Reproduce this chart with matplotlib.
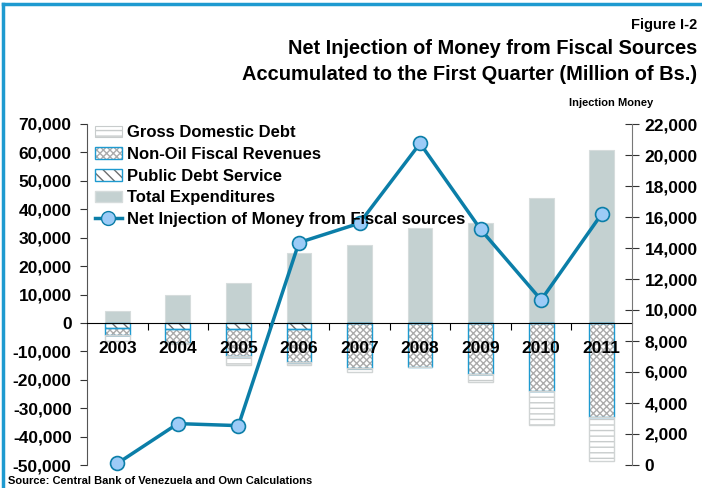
import matplotlib
matplotlib.use("Agg")
import matplotlib.pyplot as plt
from matplotlib.patches import Patch
from matplotlib.lines import Line2D
from matplotlib.ticker import FuncFormatter, FixedLocator
import numpy as np

plt.rcParams['font.family'] = ['Liberation Sans', 'DejaVu Sans']
plt.rcParams['font.weight'] = 'bold'
plt.rcParams['hatch.linewidth'] = 1.0

years = ['2003', '2004', '2005', '2006', '2007', '2008', '2009', '2010', '2011']
total_expenditures = [4300, 9900, 14200, 24500, 27500, 33400, 35100, 43900, 60900]
public_debt_service = [1800, 2300, 2300, 2300, 0, 0, 0, 0, 0]
non_oil_revenues = [2300, 4800, 9500, 11500, 15900, 15600, 18000, 23900, 33200]
gross_domestic_debt = [2400, 300, 2900, 900, 1500, 0, 2900, 12000, 15400]
net_injection = [100, 2670, 2540, 14350, 15600, 20750, 15200, 10650, 16200]

blue_edge = '#1e9ad0'
line_col = '#0b7ea8'
marker_col = '#9ccbf7'
grey_fill = '#c4d1d1'

fig = plt.figure(figsize=(7.02, 4.88), dpi=100)
ax = fig.add_axes([87 / 702, 1 - 465 / 488, (632 - 87) / 702, (465 - 124) / 488])
ax2 = ax.twinx()

x = np.arange(len(years))
w = 0.41

# positive bars
ax.bar(x, total_expenditures, w, color=grey_fill, edgecolor='#d6dcdc', linewidth=0.8, zorder=2)

# negative stacks (hatch drawn first, blue outline on top)
pds = -np.array(public_debt_service)
nor = -np.array(non_oil_revenues)
gdd = -np.array(gross_domestic_debt)

ax.bar(x, pds, w, color='white', edgecolor='#6e6e6e', hatch='\\\\\\', linewidth=0, zorder=2)
ax.bar(x, pds, w, fill=False, edgecolor=blue_edge, linewidth=1.0, zorder=3)
ax.bar(x, nor, w, bottom=pds, color='white', edgecolor='#ababab', hatch='xxxxx', linewidth=0, zorder=2)
ax.bar(x, nor, w, bottom=pds, fill=False, edgecolor=blue_edge, linewidth=1.0, zorder=3)
ax.bar(x, gdd, w, bottom=pds + nor, color='white', edgecolor='#c8cccc', hatch='---', linewidth=0, zorder=2)
ax.bar(x, gdd, w, bottom=pds + nor, fill=False, edgecolor='#d0d4d4', linewidth=1.0, zorder=3)

ax.set_xlim(-0.5, len(years) - 0.5)
ax.set_ylim(-50000, 70000)
ax.set_yticks(np.arange(-50000, 70001, 10000))
ax.yaxis.set_major_formatter(FuncFormatter(lambda v, p: f'{int(v):,}'))
ax.tick_params(axis='y', labelsize=12.5, direction='out', length=5, color='#333333', pad=6)

ax.spines['bottom'].set_position(('data', 0))
ax.spines['bottom'].set_zorder(6)
ax.spines['top'].set_visible(False)
ax.spines['right'].set_visible(False)
ax.spines['left'].set_color('#555555')
ax.xaxis.set_major_locator(FixedLocator(np.arange(0.5, len(years) - 1, 1)))
ax.xaxis.set_minor_locator(FixedLocator(x))
ax.set_xticklabels([], minor=False)
ax.set_xticklabels(years, minor=True)
ax.tick_params(axis='x', which='major', direction='out', length=5, color='black')
ax.tick_params(axis='x', which='minor', length=0, pad=13, labelsize=12.5)
ax.xaxis.set_zorder(5)
ax.set_zorder(1)
ax.patch.set_visible(False)
ax2.set_zorder(2)

# line on right axis
ax2.plot(x, net_injection, color=line_col, lw=2.5, marker='o', markersize=10,
         markerfacecolor=marker_col, markeredgecolor=line_col, markeredgewidth=1.2,
         zorder=5, clip_on=False)
ax2.set_ylim(0, 22000)
ax2.set_yticks(np.arange(0, 22001, 2000))
ax2.yaxis.set_major_formatter(FuncFormatter(lambda v, p: f'{int(v):,}'))
ax2.tick_params(axis='y', labelsize=12.5, direction='inout', length=10, color='#333333', pad=4)
ax2.spines['top'].set_visible(False)
ax2.spines['left'].set_visible(False)
ax2.spines['bottom'].set_visible(False)
ax2.spines['right'].set_color('#777777')

# legend
h_gdd = Patch(facecolor='white', edgecolor='#c8cccc', hatch='---', linewidth=0.8)
h_nor = (Patch(facecolor='white', edgecolor='#ababab', hatch='xxxxx', linewidth=0),
         Patch(fill=False, edgecolor=blue_edge, linewidth=1.0))
h_pds = (Patch(facecolor='white', edgecolor='#6e6e6e', hatch='\\\\\\', linewidth=0),
         Patch(fill=False, edgecolor=blue_edge, linewidth=1.0))
h_te = Patch(facecolor=grey_fill, edgecolor='#d6dcdc')
h_line = Line2D([], [], color=line_col, lw=2.5, marker='o', markersize=10,
                markerfacecolor=marker_col, markeredgecolor=line_col)
leg = ax2.legend([h_gdd, h_nor, h_pds, h_te, h_line],
                 ['Gross Domestic Debt', 'Non-Oil Fiscal Revenues', 'Public Debt Service',
                  'Total Expenditures', 'Net Injection of Money from Fiscal sources'],
                 loc='upper left', bbox_to_anchor=(-0.01, 1.035), frameon=False,
                 fontsize=12, handlelength=1.6, handletextpad=0.3, labelspacing=0.4,
                 borderaxespad=0.4)

# titles and notes
fig.text(697 / 702, 1 - 25 / 488, 'Figure I-2', ha='right', va='center', fontsize=10.5)
fig.text(697 / 702, 1 - 48 / 488, 'Net Injection of Money from Fiscal Sources',
         ha='right', va='center', fontsize=14.4)
fig.text(697 / 702, 1 - 74 / 488, 'Accumulated to the First Quarter (Million of Bs.)',
         ha='right', va='center', fontsize=14.4)
fig.text(611 / 702, 1 - 103 / 488, 'Injection Money', ha='center', va='center', fontsize=8)
fig.text(8 / 702, 1 - 481 / 488, 'Source: Central Bank of Venezuela and Own Calculations',
         ha='left', va='center', fontsize=8)

# blue frame along top and left edge
fig.add_artist(Line2D([3 / 702, 3 / 702], [0, 1 - 4 / 488], transform=fig.transFigure,
                      color=blue_edge, lw=2.5))
fig.add_artist(Line2D([3 / 702, 1], [1 - 4 / 488, 1 - 4 / 488], transform=fig.transFigure,
                      color=blue_edge, lw=2.5))

fig.savefig('out.png', dpi=100)
